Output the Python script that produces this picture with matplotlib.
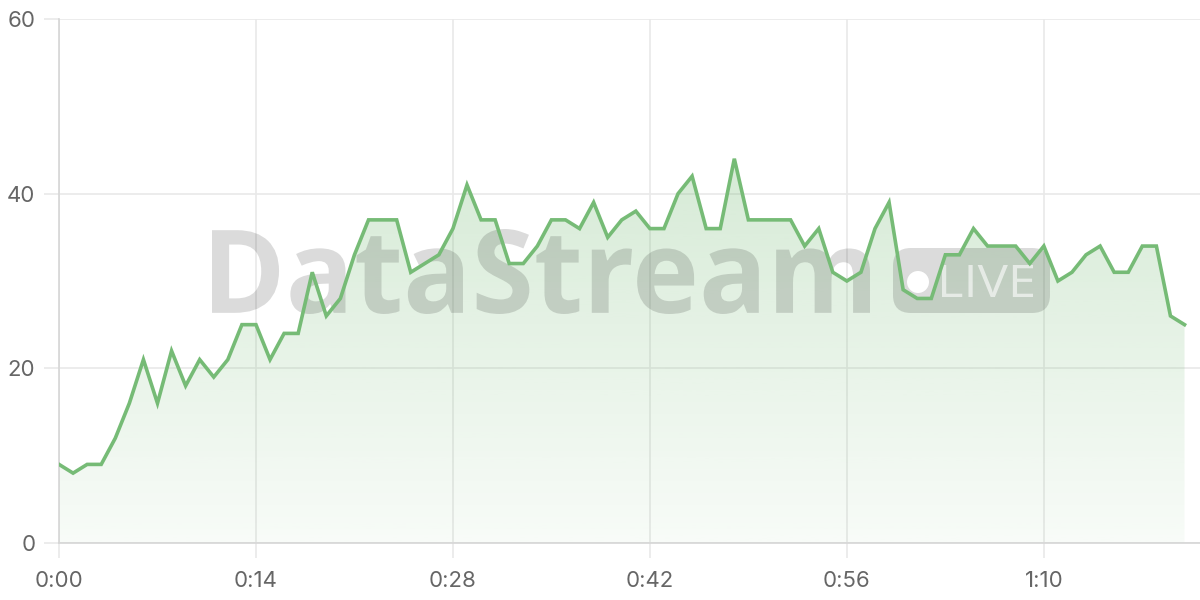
import numpy as np
import matplotlib.pyplot as plt
from matplotlib.patches import FancyBboxPatch, Circle, PathPatch
from matplotlib.path import Path
from matplotlib.textpath import TextPath
from matplotlib.font_manager import FontProperties
from matplotlib.transforms import Affine2D

plt.rcParams['font.family'] = ['Inter', 'DejaVu Sans']

# one sample per second
seconds = list(range(81))
values = [9, 8, 9, 9, 12, 16, 21, 16, 22, 18,
          21, 19, 21, 25, 25, 21, 24, 24, 31, 26,
          28, 33, 37, 37, 37, 31, 32, 33, 36, 41,
          37, 37, 32, 32, 34, 37, 37, 36, 39, 35,
          37, 38, 36, 36, 40, 42, 36, 36, 44, 37,
          37, 37, 37, 34, 36, 31, 30, 31, 36, 39,
          29, 28, 28, 33, 33, 36, 34, 34, 34, 32,
          34, 30, 31, 33, 34, 31, 31, 34, 34, 26,
          25]
xticks = [0, 14, 28, 42, 56, 70]
xtick_labels = ['0:00', '0:14', '0:28', '0:42', '0:56', '1:10']
yticks = [0, 20, 40, 60]

line_color = '#76bb76'
grid_color = '#e9e9e9'
axis_color = '#d6d6d6'
text_color = '#666666'

W, H = 1200, 600
fig = plt.figure(figsize=(12, 6), dpi=100)
ax = fig.add_axes([59 / W, 57 / H, 1141 / W, 524 / H])
ax.set_xlim(0, 81.1)
ax.set_ylim(0, 60)

# pixel coords (y down from top) -> figure
px = Affine2D().scale(1, -1).translate(0, H).scale(1 / W, 1 / H) + fig.transFigure


def fitted_text(s, left, top, right, bottom, **fp):
    # text path squeezed into a pixel box
    tp = TextPath((0, 0), s, size=100, prop=FontProperties(**fp))
    bb = tp.get_extents()
    tr = (Affine2D().translate(-bb.x0, -bb.y0)
          .scale((right - left) / bb.width, (bottom - top) / bb.height)
          .translate(left, H - bottom)
          .scale(1 / W, 1 / H)) + fig.transFigure
    return tp, tr


# gradient fill under the line
x = np.array(seconds)
y = np.array(values)
verts = [(x[0], 0)] + list(zip(x, y)) + [(x[-1], 0)]
poly = PathPatch(Path(verts), facecolor='none', edgecolor='none')
ax.add_patch(poly)
grad = np.linspace(0.05, 0.30, 256).reshape(-1, 1)
rgba = np.zeros((256, 1, 4))
rgba[..., 0] = 0x76 / 255
rgba[..., 1] = 0xbb / 255
rgba[..., 2] = 0x76 / 255
rgba[..., 3] = grad
im = ax.imshow(rgba, extent=(x[0], x[-1], 0, y.max()), origin='lower',
               aspect='auto', zorder=1)
im.set_clip_path(poly)

# watermark
tp, tr = fitted_text('DataStream', 212, 229, 870, 314,
                     family=['Open Sans', 'DejaVu Sans'], weight='bold')
ax.add_artist(PathPatch(tp, transform=tr, facecolor='black',
                        edgecolor='none', alpha=0.14, zorder=2))
pill = FancyBboxPatch((893, 248), 157, 65,
                      boxstyle='round,pad=0,rounding_size=18',
                      transform=px, facecolor='black', edgecolor='none',
                      alpha=0.14, zorder=2)
ax.add_artist(pill)
ax.add_artist(Circle((918, 282), 11, transform=px,
                     facecolor='white', edgecolor='none', zorder=2))
tp, tr = fitted_text('LIVE', 942, 265, 1033, 297,
                     family=['Open Sans', 'DejaVu Sans'])
ax.add_artist(PathPatch(tp, transform=tr, facecolor='white',
                        edgecolor='none', alpha=0.6, zorder=2))

ax.plot(seconds, values, color=line_color, lw=2.6, zorder=3,
        solid_joinstyle='miter')

ax.set_xticks(xticks)
ax.set_xticklabels(xtick_labels)
ax.set_yticks(yticks)
ax.grid(True, color=grid_color, lw=1.2, zorder=0)
ax.set_axisbelow(True)
for side in ['top', 'right']:
    ax.spines[side].set_visible(False)
for side in ['left', 'bottom']:
    ax.spines[side].set_color(axis_color)
    ax.spines[side].set_linewidth(1.2)
ax.tick_params(axis='both', colors=grid_color, length=11, width=1.2)
ax.tick_params(axis='x', labelcolor=text_color, labelsize=16, pad=9)
ax.tick_params(axis='y', labelcolor=text_color, labelsize=16, pad=6)

fig.savefig('out.png', dpi=100)
